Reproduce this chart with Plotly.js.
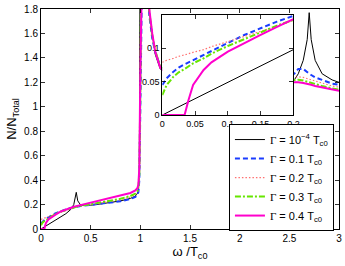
<!DOCTYPE html>
<html>
<head>
<meta charset="utf-8">
<script src="https://cdn.plot.ly/plotly-3.0.1.min.js"></script>
<style>html,body{margin:0;padding:0;background:#fff;}#plot{width:345px;height:266px;}</style>
</head>
<body>
<div id="plot"></div>
<script>
// Main panel: omega / T_c0
var omega = [0, 0.02, 0.034, 0.04, 0.05, 0.075, 0.1, 0.15, 0.2, 0.25, 0.3, 0.33, 0.355, 0.37, 0.4, 0.5, 0.6, 0.7, 0.8, 0.9, 0.95, 0.97, 0.98, 0.99, 1.0, 1.01, 1.03, 1.06, 1.09, 1.12, 1.15, 1.2, 1.3, 1.5, 1.8, 2.1, 2.4, 2.5, 2.55, 2.59, 2.64, 2.68, 2.7, 2.72, 2.76, 2.83, 2.93, 3.0];
var nG0 = [0, 0.01, 0.017, 0.02, 0.025, 0.037, 0.049, 0.073, 0.098, 0.125, 0.16, 0.2, 0.30, 0.23, 0.195, 0.195, 0.205, 0.215, 0.23, 0.25, 0.27, 0.29, 0.32, 0.45, 3.0, 3.0, 2.5, 2.1, 1.78, 1.58, 1.43, 1.31, 1.26, 1.2, 1.18, 1.18, 1.19, 1.2, 1.22, 1.27, 1.38, 1.55, 1.77, 1.55, 1.38, 1.27, 1.22, 1.2];
var nG1 = [0.045, 0.065, 0.074, 0.077, 0.083, 0.097, 0.108, 0.13, 0.148, 0.16, 0.172, 0.178, 0.182, 0.184, 0.188, 0.197, 0.205, 0.214, 0.227, 0.245, 0.262, 0.28, 0.3, 0.4, 0.9, 1.6, 3.0, 2.1, 1.75, 1.56, 1.45, 1.33, 1.27, 1.22, 1.2, 1.21, 1.23, 1.25, 1.27, 1.31, 1.31, 1.28, 1.27, 1.26, 1.24, 1.22, 1.19, 1.18];
var nG2 = [0.079, 0.085, 0.09, 0.091, 0.095, 0.102, 0.11, 0.125, 0.142, 0.155, 0.168, 0.175, 0.18, 0.183, 0.19, 0.2, 0.212, 0.225, 0.24, 0.262, 0.28, 0.3, 0.32, 0.42, 1.0, 2.2, 2.7, 2.1, 1.78, 1.58, 1.46, 1.33, 1.27, 1.21, 1.19, 1.2, 1.21, 1.23, 1.24, 1.245, 1.24, 1.23, 1.225, 1.22, 1.21, 1.19, 1.17, 1.16];
var nG3 = [0.03, 0.057, 0.064, 0.067, 0.077, 0.092, 0.104, 0.125, 0.143, 0.157, 0.17, 0.176, 0.181, 0.184, 0.19, 0.203, 0.216, 0.23, 0.247, 0.27, 0.29, 0.31, 0.34, 0.45, 1.1, 2.3, 2.7, 2.1, 1.78, 1.58, 1.46, 1.33, 1.26, 1.2, 1.18, 1.19, 1.2, 1.215, 1.22, 1.222, 1.215, 1.205, 1.2, 1.195, 1.185, 1.17, 1.15, 1.14];
var nG4 = [0, 0, 0, 0.0225, 0.05, 0.079, 0.095, 0.12, 0.1437, 0.16, 0.175, 0.182, 0.187, 0.19, 0.197, 0.212, 0.23, 0.25, 0.27, 0.295, 0.315, 0.335, 0.36, 0.5, 1.3, 2.6, 2.7, 2.1, 1.8, 1.6, 1.45, 1.32, 1.25, 1.2, 1.18, 1.18, 1.19, 1.2, 1.203, 1.2, 1.195, 1.19, 1.185, 1.18, 1.17, 1.16, 1.14, 1.13];

// Inset: low-frequency zoom
var omegaIn = [0, 0.0067, 0.017, 0.025, 0.034, 0.04, 0.047, 0.063, 0.075, 0.1, 0.125, 0.15, 0.175, 0.2];
var inG0 = [0, 0.0033, 0.0083, 0.0123, 0.0167, 0.0196, 0.023, 0.031, 0.0368, 0.049, 0.0613, 0.0735, 0.0858, 0.098];
var inG1 = [0.045, 0.055, 0.065, 0.071, 0.076, 0.079, 0.0825, 0.09, 0.096, 0.108, 0.12, 0.13, 0.14, 0.1487];
var inG2 = [0.079, 0.082, 0.085, 0.088, 0.09, 0.092, 0.094, 0.098, 0.1025, 0.11, 0.1175, 0.125, 0.133, 0.142];
var inG3 = [0.03, 0.045, 0.0575, 0.064, 0.069, 0.073, 0.0775, 0.085, 0.092, 0.1035, 0.114, 0.1245, 0.134, 0.1426];
var inG4 = [0, 0, 0, 0, 0, 0.0225, 0.045, 0.0675, 0.079, 0.095, 0.108, 0.12, 0.132, 0.1437];

var seriesNames = [
  '<span style="font-family:\'Liberation Serif\'">Γ</span> = 10<sup>−4</sup> T<sub>c0</sub>',
  '<span style="font-family:\'Liberation Serif\'">Γ</span> = 0.1 T<sub>c0</sub>',
  '<span style="font-family:\'Liberation Serif\'">Γ</span> = 0.2 T<sub>c0</sub>',
  '<span style="font-family:\'Liberation Serif\'">Γ</span> = 0.3 T<sub>c0</sub>',
  '<span style="font-family:\'Liberation Serif\'">Γ</span> = 0.4 T<sub>c0</sub>'
];
var xTickVals = [0, 0.5, 1, 1.5, 2, 2.5, 3];
var xTickText = ['0', '0.5', '1', '1.5', '2', '2.5', '3'];
var yTickVals = [0, 0.2, 0.4, 0.6, 0.8, 1, 1.2, 1.4, 1.6, 1.8];
var yTickText = ['0', '0.2', '0.4', '0.6', '0.8', '1', '1.2', '1.4', '1.6', '1.8'];
var inXTickVals = [0, 0.05, 0.1, 0.15, 0.2];
var inXTickText = ['0', '0.05', '0.1', '0.15', '0.2'];
var inYTickVals = [0, 0.05, 0.1];
var inYTickText = ['0', '0.05', '0.1'];

var styles = [
  {color: '#000000', width: 1, dash: 'solid'},
  {color: '#1a3cff', width: 2, dash: '5px,3px'},
  {color: '#ff7070', width: 1.2, dash: '1.5px,2px'},
  {color: '#66e600', width: 2, dash: '6px,2px,2px,2px'},
  {color: '#ff00cc', width: 2, dash: 'solid'}
];
var mainY = [nG0, nG1, nG2, nG3, nG4];
var inY = [inG0, inG1, inG2, inG3, inG4];

var traces = [];
for (var i = 0; i < 5; i++) {
  traces.push({x: omega, y: mainY[i], type: 'scatter', mode: 'lines', name: seriesNames[i],
    line: styles[i], xaxis: 'x', yaxis: 'y', showlegend: true});
}
for (var j = 0; j < 5; j++) {
  traces.push({x: omegaIn, y: inY[j], type: 'scatter', mode: 'lines', name: seriesNames[j],
    line: styles[j], xaxis: 'x2', yaxis: 'y2', showlegend: false, cliponaxis: false});
}

var fontMain = {family: 'Liberation Sans, Arial, sans-serif', size: 10, color: '#000'};
var axisCommon = {showgrid: false, zeroline: false, showline: true, linecolor: '#000', linewidth: 1,
  mirror: 'ticks', ticks: 'inside', ticklen: 4, tickcolor: '#000', tickwidth: 0.8, tickfont: fontMain};

var layout = {
  width: 345, height: 266,
  margin: {l: 41, r: 6, t: 9, b: 37},
  paper_bgcolor: '#fff', plot_bgcolor: '#fff',
  font: fontMain,
  showlegend: true,
  xaxis: Object.assign({}, axisCommon, {range: [0, 3], domain: [0, 1], tickvals: xTickVals, ticktext: xTickText,
    title: {text: 'ω /T<sub>c0</sub>', font: {family: 'Liberation Sans, Arial, sans-serif', size: 13, color: '#000'}, standoff: 2}}),
  yaxis: Object.assign({}, axisCommon, {range: [0, 1.8], domain: [0, 1], tickvals: yTickVals, ticktext: yTickText,
    title: {text: 'N/N<sub>Total</sub>', font: {family: 'Liberation Sans, Arial, sans-serif', size: 13, color: '#000'}, standoff: 4}}),
  xaxis2: Object.assign({}, axisCommon, {range: [0, 0.2], domain: [0.407, 0.847], anchor: 'y2',
    tickvals: inXTickVals, ticktext: inXTickText, tickfont: {family: 'Liberation Sans, Arial, sans-serif', size: 9, color: '#000'}}),
  yaxis2: Object.assign({}, axisCommon, {range: [0, 0.15], domain: [0.518, 0.973], anchor: 'x2',
    tickvals: inYTickVals, ticktext: inYTickText, tickfont: {family: 'Liberation Sans, Arial, sans-serif', size: 9, color: '#000'}}),
  legend: {x: 0.983, y: 0.477, xanchor: 'right', yanchor: 'top', bgcolor: '#fff', bordercolor: '#000', borderwidth: 1,
    font: {family: 'Liberation Sans, Arial, sans-serif', size: 11, color: '#000'}, tracegroupgap: 0, itemwidth: 30}
};

Plotly.newPlot('plot', traces, layout, {staticPlot: true, displayModeBar: false});
</script>
</body>
</html>
